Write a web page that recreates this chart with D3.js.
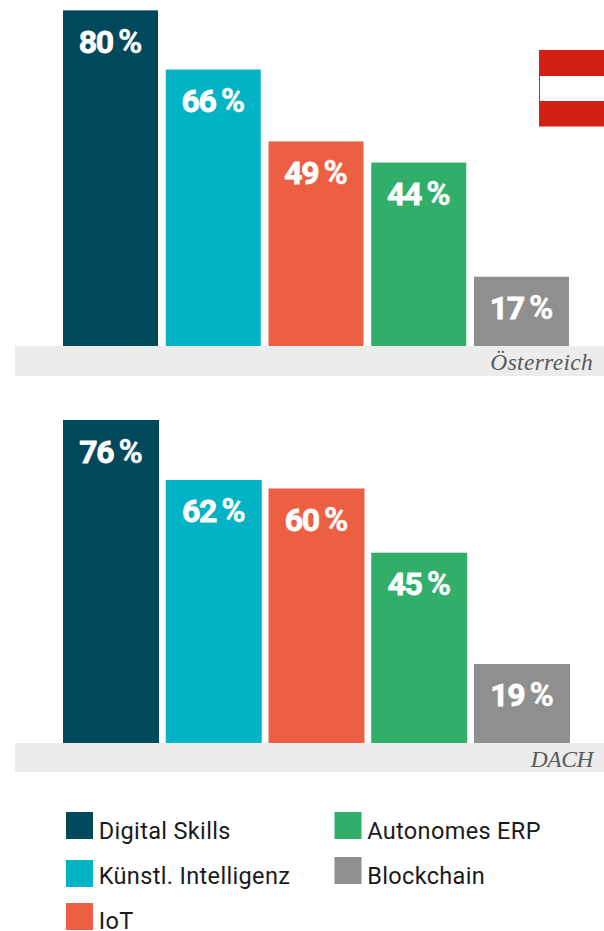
<!DOCTYPE html>
<html>
<head>
<meta charset="utf-8">
<script src="https://cdn.jsdelivr.net/npm/d3@7"></script>
<style>
  html, body { margin: 0; padding: 0; background: #fff; overflow: hidden; }
  svg { display: block; }
  .value { font-family: Roboto, sans-serif; font-weight: 700; font-size: 32px; fill: #fff; stroke: #fff; stroke-width: 0.8px; text-anchor: middle; letter-spacing: -1.2px; }
  .value .pct { font-size: 33px; letter-spacing: 0; stroke-width: 0.4px; }
  .region { font-family: "Liberation Serif", serif; font-style: italic; font-size: 23.5px; fill: #5a5a5a; text-anchor: end; }
  .legend text { font-family: Roboto, sans-serif; font-size: 23.5px; fill: #1a1a1a; letter-spacing: 0.35px; }
</style>
</head>
<body>
<svg id="chart" width="604" height="931"></svg>
<script>
const categories = ["Digital Skills", "Künstl. Intelligenz", "IoT", "Autonomes ERP", "Blockchain"];
const colors = ["#00485c", "#00b4c5", "#ec5f43", "#31ae69", "#8f8f8f"];
const austria = [80, 66, 49, 44, 17];
const dach = [76, 62, 60, 45, 19];

const svg = d3.select("#chart");
const color = d3.scaleOrdinal(categories, colors);

function panel(name, values, o) {
  const x = d3.scaleBand(categories, o.rangeX).paddingInner(o.pad);
  // the zero line sits a little below the top of the grey strip
  const y = d3.scaleLinear().domain([0, 100]).range([o.zero, o.zero - o.perPct * 100]);
  const g = svg.append("g");

  g.selectAll("rect.bar")
    .data(values)
    .join("rect")
    .attr("class", "bar")
    .attr("x", (d, i) => x(categories[i]))
    .attr("y", d => y(d))
    .attr("width", x.bandwidth())
    .attr("height", d => o.zero - y(d))
    .attr("fill", (d, i) => color(categories[i]));

  // drawn after the bars, it covers their feet
  g.append("rect")
    .attr("x", 15).attr("y", o.base)
    .attr("width", 589).attr("height", o.stripH)
    .attr("fill", "#ececec");

  const labels = g.selectAll("text.value")
    .data(values)
    .join("text")
    .attr("class", "value")
    .attr("x", (d, i) => x(categories[i]) + x.bandwidth() / 2)
    .attr("y", d => y(d) + 42.5);
  labels.append("tspan").text(d => d);
  labels.append("tspan").attr("class", "pct").attr("dx", 5).text("%");

  g.append("text")
    .attr("class", "region")
    .attr("x", 593).attr("y", o.base + 24)
    .style("letter-spacing", o.spacing)
    .text(name);
}

panel("Österreich", austria, { rangeX: [63, 569], pad: 0.0755, base: 346, zero: 348.6, perPct: 4.228, stripH: 30, spacing: "0.3px" });
panel("DACH", dach, { rangeX: [63, 570], pad: 0.0657, base: 743, zero: 745.3, perPct: 4.28, stripH: 29, spacing: "-0.4px" });

// flag
const flag = svg.append("g");
flag.append("rect").attr("x", 539).attr("y", 50).attr("width", 65).attr("height", 76.5).attr("fill", "#d31f14");
flag.append("rect").attr("x", 540).attr("y", 76).attr("width", 64).attr("height", 25).attr("fill", "#fff");

// legend, in the order of the categories
const legendPos = [[66, 812, 839], [66, 860, 884], [66, 903, 929], [334.5, 812, 839], [334.5, 857, 884]];
const legend = svg.append("g").attr("class", "legend");
categories.forEach((c, i) => {
  const [lx, ly, base] = legendPos[i];
  legend.append("rect").attr("x", lx).attr("y", ly).attr("width", 27).attr("height", 27).attr("fill", color(c));
  legend.append("text").attr("x", lx + 32.7).attr("y", base).text(c);
});
</script>
</body>
</html>
